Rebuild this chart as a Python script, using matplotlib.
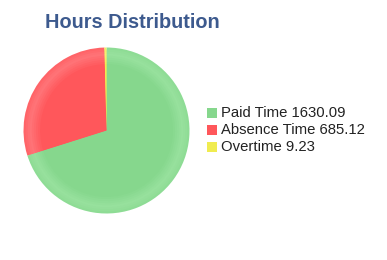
import matplotlib.pyplot as plt
from matplotlib.patches import Rectangle
import numpy as np
from matplotlib.colors import to_rgb

# data
labels = ['Paid Time', 'Absence Time', 'Overtime']
hours = [1630.09, 685.12, 9.23]
colors = ['#86d78d', '#ff575b', '#f0ec50']
rim_colors = ['#98e19e', '#ff7478', '#f5f274']

plt.rcParams['font.family'] = ['Liberation Sans', 'DejaVu Sans']

W, H = 387, 260
fig = plt.figure(figsize=(W / 100, H / 100), dpi=100)

# pie centre ~ (106, 130), radius ~ 83 px
cx, cy, r = 106.5, 130.5, 83
ax = fig.add_axes([(cx - r) / W, 1 - (cy + r) / H, 2 * r / W, 2 * r / H])

# stacked wedges from outside in, to fake the soft radial shading of the original
radii = np.linspace(1.0, 0.8, 9)
for rad in radii:
    # lightest around 0.93, fading back to base colour inside and at the very edge
    t = max(0.0, 1 - abs(rad - 0.93) / 0.13)
    cols = [tuple((1 - t) * np.array(to_rgb(c)) + t * np.array(to_rgb(rc)))
            for c, rc in zip(colors, rim_colors)]
    ax.pie(hours, colors=cols, startangle=90, counterclock=False, radius=rad,
           wedgeprops=dict(linewidth=0))
ax.set_xlim(-1, 1)
ax.set_ylim(-1, 1)
ax.set_aspect('equal')
ax.axis('off')

fig.text(45 / W, 1 - 23 / H, 'Hours Distribution', fontsize=14.3, fontweight='bold',
         color='#3d5a8e', ha='left', va='center')

# legend
for i, (lab, val) in enumerate(zip(labels, hours)):
    y = 113 + i * 17
    fig.patches.append(Rectangle((207 / W, 1 - (y + 5) / H), 10 / W, 10 / H,
                                 transform=fig.transFigure, facecolor=colors[i],
                                 edgecolor='none'))
    fig.text(221 / W, 1 - y / H, f'{lab} {val:.2f}', fontsize=10.7, color='#222222',
             ha='left', va='center')

fig.savefig('out.png', dpi=100)
